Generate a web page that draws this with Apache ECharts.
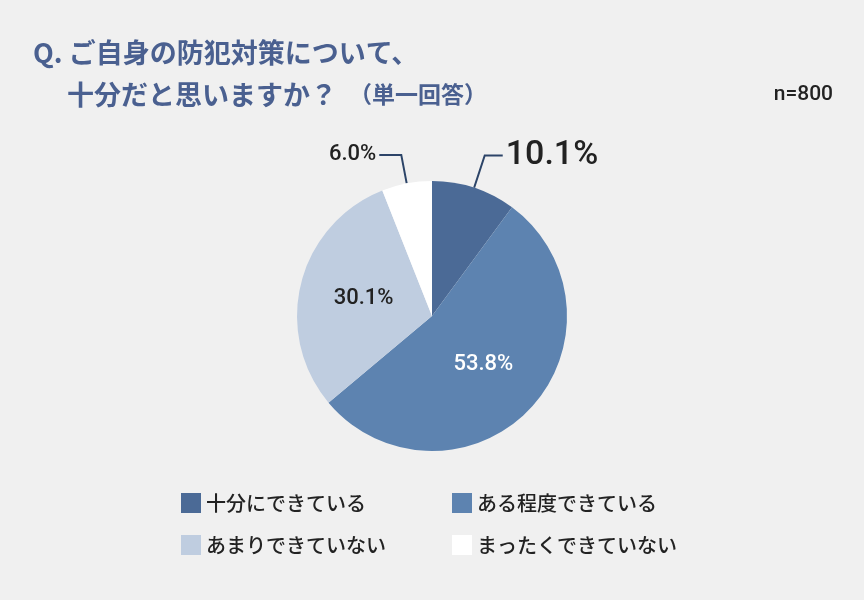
<!DOCTYPE html>
<html>
<head>
<meta charset="utf-8">
<script src="https://cdn.jsdelivr.net/npm/echarts@6/dist/echarts.min.js"></script>
<style>
html,body{margin:0;padding:0;background:#f0f0f0;}
#chart{width:864px;height:600px;}
</style>
</head>
<body>
<div id="chart"></div>
<script>
// ---- data ----
var categories = ['十分にできている', 'ある程度できている', 'あまりできていない', 'まったくできていない'];
var values = [10.1, 53.8, 30.1, 6.0];
var titleLine1 = 'Q. ご自身の防犯対策について、';
var titleLine2 = '十分だと思いますか？';
var titleNote = '（単一回答）';
var sampleText = 'n=800';

// ---- styles (separate from data) ----
var colors = ['#4b6a96', '#5d83b0', '#bfcde0', '#ffffff'];
var labelStyles = [
  { position: 'outside', fontSize: 34, color: '#222222', line: { length: 34, length2: 18 } },
  { position: 'inside', fontSize: 22, color: '#ffffff' },
  { position: 'inside', fontSize: 22, color: '#222222' },
  { position: 'outside', fontSize: 22, color: '#222222', line: { length: 29, length2: 22 } }
];

var jp = '"Noto Sans CJK JP", sans-serif';
var num = 'Roboto, "Noto Sans CJK JP", sans-serif';

var seriesData = categories.map(function (name, i) {
  var s = labelStyles[i];
  var item = {
    name: name,
    value: values[i],
    itemStyle: { color: colors[i] },
    label: {
      show: true,
      position: s.position,
      fontSize: s.fontSize,
      color: s.color,
      fontFamily: num,
      fontWeight: 500,
      distanceToLabelLine: 3
    }
  };
  if (s.line) {
    item.labelLine = {
      show: true,
      length: s.line.length,
      length2: s.line.length2,
      lineStyle: { color: '#2c4468', width: 2 }
    };
  } else {
    item.labelLine = { show: false };
  }
  return item;
});

var chart = echarts.init(document.getElementById('chart'));
chart.setOption({
  backgroundColor: '#f0f0f0',
  animation: false,
  title: [
    {
      text: titleLine1, left: 33, top: 39, padding: 0,
      textStyle: { fontFamily: jp, fontSize: 27, fontWeight: 'bold', color: '#4a6090', lineHeight: 27 }
    },
    {
      text: titleLine2 + '{s|' + titleNote + '}', left: 67, top: 81, padding: 0,
      textStyle: {
        fontFamily: jp, fontSize: 27, fontWeight: 'bold', color: '#4a6090', lineHeight: 27,
        rich: { s: { fontFamily: jp, fontSize: 23, fontWeight: 'bold', color: '#4a6090', lineHeight: 27, padding: [0, 0, 0, 12] } }
      }
    },
    {
      text: sampleText, right: 31, top: 84, padding: 0,
      textStyle: { fontFamily: num, fontSize: 21, fontWeight: 500, color: '#222222', lineHeight: 22 }
    }
  ],
  legend: [
    {
      data: [categories[0], categories[2]],
      orient: 'vertical', left: 181, top: 493, padding: 0,
      itemWidth: 20, itemHeight: 20, itemGap: 22, icon: 'rect',
      textStyle: { fontFamily: jp, fontSize: 20, fontWeight: 500, color: '#222222' },
      selectedMode: false
    },
    {
      data: [categories[1], categories[3]],
      orient: 'vertical', left: 452, top: 493, padding: 0,
      itemWidth: 20, itemHeight: 20, itemGap: 22, icon: 'rect',
      textStyle: { fontFamily: jp, fontSize: 20, fontWeight: 500, color: '#222222' },
      selectedMode: false
    }
  ],
  series: [
    {
      type: 'pie',
      center: [432, 316],
      radius: [0, 135],
      startAngle: 90,
      clockwise: true,
      avoidLabelOverlap: false,
      label: {
        formatter: function (p) { return p.value.toFixed(1) + '%'; }
      },
      itemStyle: { borderWidth: 0 },
      emphasis: { disabled: true },
      data: seriesData
    }
  ]
});
</script>
</body>
</html>
